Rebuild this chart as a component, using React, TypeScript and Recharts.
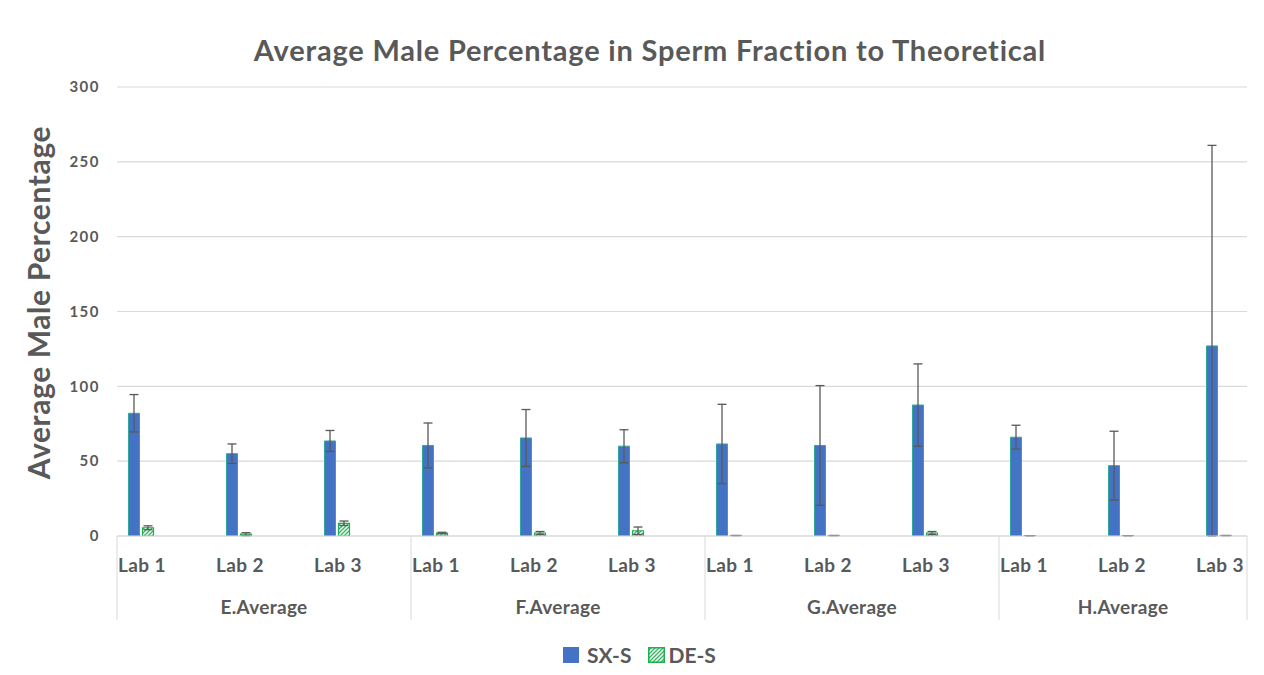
import React from "react"
import { BarChart, Bar, XAxis, YAxis, CartesianGrid, ErrorBar } from "recharts"

const groups = ["E.Average", "F.Average", "G.Average", "H.Average"]
const labs = ["Lab 1", "Lab 2", "Lab 3"]

// SX-S and DE-S means, with their error bars
const sxValues = [82, 55, 63.5, 60.5, 65.5, 60, 61.5, 60.5, 87.5, 66, 47, 127]
const sxErrors = [12.5, 6.5, 7, 15, 19, 11, 26.5, 40, 27.5, 8, 23, 134]
const deValues = [5.5, 1.2, 8.5, 2, 2, 3.5, 0.3, 0.3, 2, 0.2, 0.2, 0.3]
const deErrors = [1.3, 1, 1.5, 0.5, 1, 2.5, 0, 0, 1, 0, 0, 0]

const yTicks = [0, 50, 100, 150, 200, 250, 300]

// excel stops the lower whisker at the axis
const whisker = (v: number, e: number) => [Math.min(e, v), e]

const data = groups.flatMap((group, gi) =>
  labs.map((lab, li) => {
    const i = gi * labs.length + li
    return {
      key: `${group}|${lab}`,
      group,
      lab,
      sx: sxValues[i],
      sxErr: whisker(sxValues[i], sxErrors[i]),
      de: deValues[i],
      deErr: whisker(deValues[i], deErrors[i]),
    }
  })
)

const W = 1248
const H = 660
const MARGIN = { top: 79, right: 9, left: 0, bottom: 47 }
const Y_AXIS_W = 109
const PLOT_RIGHT = W - MARGIN.right
const CAT_W = 98 // each lab slot in the original excel chart
const SHIFT = 25.5 // bars sit left of the slot centre in the original
const FONT = "Lato, 'Open Sans', sans-serif"
const GREY = "#595959"
const LINE = "#d9d9d9"

function CategoryTick(props: any) {
  const { x, y, index } = props
  const row = data[index]
  if (!row) return null
  const li = index % labs.length
  const start = x - (CAT_W / 2 - SHIFT)
  const groupStart = start - li * CAT_W
  const groupEnd = Math.min(groupStart + CAT_W * labs.length, PLOT_RIGHT)
  return (
    <g>
      <text
        x={start + 1}
        y={y + 36}
        textAnchor="start"
        fill={GREY}
        fontFamily={FONT}
        fontWeight={700}
        fontSize={19}
        letterSpacing={0.4}
      >
        {row.lab}
      </text>
      {li === 0 && (
        <line x1={start} x2={start} y1={y} y2={y + 84} stroke={LINE} />
      )}
      {li === 1 && (
        <text
          x={(groupStart + groupEnd) / 2}
          y={y + 78}
          textAnchor="middle"
          fill={GREY}
          fontFamily={FONT}
          fontWeight={700}
          fontSize={19}
          letterSpacing={0.3}
        >
          {row.group}
        </text>
      )}
      {index === data.length - 1 && (
        <line x1={PLOT_RIGHT} x2={PLOT_RIGHT} y1={y} y2={y + 84} stroke={LINE} />
      )}
    </g>
  )
}

function YLabel(props: any) {
  const vb = props.viewBox || {}
  const cy = (vb.y || 0) + (vb.height || 0) / 2 - 9
  return (
    <text
      x={42}
      y={cy}
      transform={`rotate(-90, 42, ${cy})`}
      textAnchor="middle"
      fill={GREY}
      fontFamily={FONT}
      fontWeight={700}
      fontSize={30}
      letterSpacing={0.6}
    >
      Average Male Percentage
    </text>
  )
}

function HatchIcon() {
  return (
    <svg width={17} height={16} style={{ display: "block" }}>
      <rect x={0.75} y={0.75} width={15.5} height={14.5} fill="url(#deHatch)" stroke="#1fae4f" strokeWidth={1.5} />
    </svg>
  )
}

export default function App() {
  return (
    <div style={{ position: "relative", width: W, height: H, fontFamily: FONT }}>
      <div
        style={{
          position: "absolute",
          left: 18,
          top: 27,
          width: W,
          textAlign: "center",
          fontSize: 29,
          fontWeight: 700,
          color: GREY,
          lineHeight: 1,
          letterSpacing: 0.8,
        }}
      >
        Average Male Percentage in Sperm Fraction to Theoretical
      </div>
      <BarChart width={W} height={H} data={data} margin={MARGIN} barGap={3}>
        <defs>
          <pattern id="deHatch" patternUnits="userSpaceOnUse" width={4} height={4}>
            <rect width={4} height={4} fill="#ffffff" />
            <path d="M-1,1 l2,-2 M0,4 l4,-4 M3,5 l2,-2" stroke="#2db85a" strokeWidth={1.3} />
          </pattern>
        </defs>
        <CartesianGrid vertical={false} stroke={LINE} strokeWidth={1.2} />
        <XAxis
          dataKey="key"
          interval={0}
          height={85}
          tickSize={0}
          tickMargin={0}
          tickLine={false}
          axisLine={{ stroke: LINE }}
          padding={{ left: -SHIFT, right: -(CAT_W * data.length - (PLOT_RIGHT - Y_AXIS_W)) + SHIFT }}
          tick={<CategoryTick />}
        />
        <YAxis
          width={Y_AXIS_W}
          domain={[0, 300]}
          allowDataOverflow
          ticks={yTicks}
          interval={0}
          axisLine={false}
          tickLine={false}
          tickMargin={11}
          tick={{ fill: GREY, fontSize: 15, fontWeight: 700, fontFamily: FONT, letterSpacing: 1.5 }}
          label={<YLabel />}
        />
        <Bar dataKey="sx" name="SX-S" barSize={11} fill="#4472c4" stroke="#2fa79a" strokeWidth={1} isAnimationActive={false}>
          <ErrorBar dataKey="sxErr" width={4.5} stroke={GREY} strokeWidth={1.3} isAnimationActive={false} />
        </Bar>
        <Bar dataKey="de" name="DE-S" barSize={11} fill="url(#deHatch)" stroke="#1fae4f" strokeWidth={1.2} isAnimationActive={false}>
          <ErrorBar dataKey="deErr" width={4.5} stroke={GREY} strokeWidth={1.3} isAnimationActive={false} />
        </Bar>
      </BarChart>
      <div
        style={{
          position: "absolute",
          left: 555,
          top: 634,
          display: "flex",
          alignItems: "center",
          fontSize: 21,
          fontWeight: 700,
          color: GREY,
        }}
      >
        <div style={{ width: 16, height: 16, background: "#4472c4" }} />
        <span style={{ marginLeft: 8 }}>SX-S</span>
        <div style={{ marginLeft: 17 }}>
          <HatchIcon />
        </div>
        <span style={{ marginLeft: 3 }}>DE-S</span>
      </div>
    </div>
  )
}
